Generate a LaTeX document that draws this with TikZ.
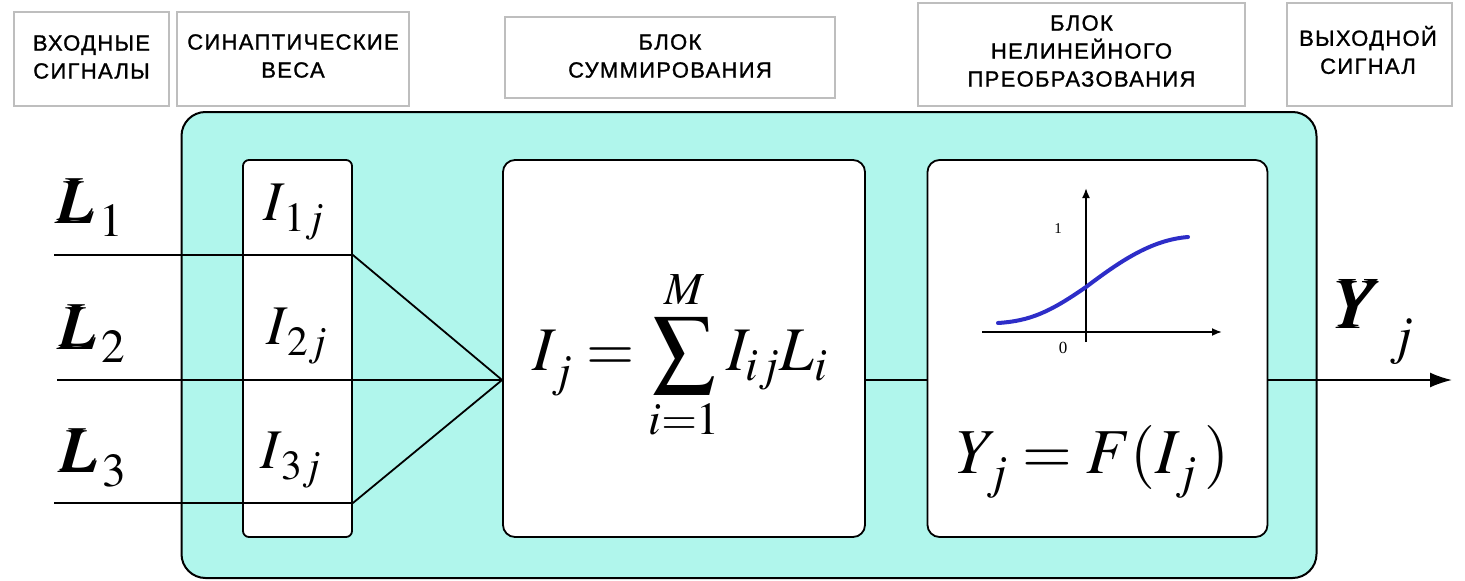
\documentclass[tikz,border=0pt]{standalone}
\usepackage{mathptmx}
\usepackage{bm}
\usepackage[no-math]{fontspec}
\newfontfamily\labfont[LetterSpace=6,FakeBold=1.2]{Liberation Sans}
\newfontfamily\tinyserif{Liberation Serif}
\usetikzlibrary{arrows.meta}
\definecolor{cyanbg}{RGB}{176,246,236}
\definecolor{curveblue}{RGB}{45,45,200}
\definecolor{labgray}{RGB}{190,190,190}
\newcommand{\lowsub}[2]{\raisebox{#1}{$\scriptstyle #2$}}
\begin{document}
\begin{tikzpicture}[x=1pt,y=-1pt,
  labbox/.style={draw=labgray, line width=1.2pt, fill=white, inner sep=0pt},
  labtext/.style={align=center, font=\labfont\fontsize{22}{28}\selectfont, inner sep=0pt},
  blockbox/.style={draw=black, line width=1.8pt, fill=white, inner sep=0pt},
  wire/.style={line width=1.8pt},
  mfont/.style={font=\fontsize{#1}{#1}\selectfont, inner sep=0pt},
  axis/.style={line width=1.8pt, -{Latex[length=10pt,width=8pt]}}
]
\useasboundingbox (0,0) rectangle (1465,581);

% top captions
\node[labbox, minimum width=155pt, minimum height=94pt] (tin) at (91.5,59) {};
\node[labtext] (tintx) at (91.5,57) {ВХОДНЫЕ\\СИГНАЛЫ};
\node[labbox, minimum width=232pt, minimum height=94pt] (tsyn) at (293,59) {};
\node[labtext] (tsyntx) at (293,56) {СИНАПТИЧЕСКИЕ\\ВЕСА};
\node[labbox, minimum width=330pt, minimum height=81pt] (tsum) at (670,57.5) {};
\node[labtext] (tsumtx) at (670,56) {БЛОК\\СУММИРОВАНИЯ};
\node[labbox, minimum width=327pt, minimum height=103pt] (tnl) at (1081.5,54.5) {};
\node[labtext] (tnltx) at (1081.5,51) {БЛОК\\НЕЛИНЕЙНОГО\\ПРЕОБРАЗОВАНИЯ};
\node[labbox, minimum width=165pt, minimum height=103pt] (tout) at (1369.5,54.5) {};
\node[labtext] (touttx) at (1368,50) {ВЫХОДНОЙ\\СИГНАЛ};

% outer neuron body
\node[draw=black, line width=2pt, fill=cyanbg, rounded corners=24pt,
  minimum width=1135pt, minimum height=466pt, inner sep=0pt] (body) at (749,345) {};

% inner blocks
\node[blockbox, rounded corners=6pt, minimum width=109pt, minimum height=377pt] (syn) at (297.5,348.5) {};
\node[blockbox, rounded corners=12pt, minimum width=362pt, minimum height=377pt] (sum) at (684,348.5) {};
\node[blockbox, rounded corners=12pt, minimum width=340pt, minimum height=377pt] (nl) at (1097.5,348.5) {};

% wire coordinates
\coordinate (in1) at (54,255);
\coordinate (in2) at (57,380);
\coordinate (in3) at (54,503);
\coordinate (w1) at (syn.east |- in1);
\coordinate (w3) at (syn.east |- in3);
\coordinate (sumin) at (sum.west |- in2);
\coordinate (sumout) at (sum.east |- in2);
\coordinate (nlin) at (nl.west |- in2);
\coordinate (nlout) at (nl.east |- in2);
\coordinate (outtip) at (1452,380);

\draw[wire] (in1) -- (w1) -- (sumin);
\draw[wire] (in2) -- (sumin);
\draw[wire] (in3) -- (w3) -- (sumin);
\draw[wire] (sumout) -- (nlin);
\draw[wire, -{Latex[length=22pt,width=15pt]}] (nlout) -- (outtip);

% input labels
\node[mfont=64] (L1) at (90,208) {$\bm{L}_{\,\lowsub{-4pt}{1}}$};
\node[mfont=64] (L2) at (92,334) {$\bm{L}_{\,\lowsub{-4pt}{2}}$};
\node[mfont=64] (L3) at (93,458) {$\bm{L}_{\,\lowsub{-4pt}{3}}$};

% weights
\node[mfont=56] (w1j) at (294,212) {$I_{\,\lowsub{-3pt}{1j}}$};
\node[mfont=56] (w2j) at (297,336) {$I_{\,\lowsub{-3pt}{2j}}$};
\node[mfont=56] (w3j) at (291,460) {$I_{\,\lowsub{-3pt}{3j}}$};

% summation formula
\node[mfont=62] (sumf) at (680,355) {$\displaystyle I_{\lowsub{-6pt}{j}} = \sum_{i=1}^{M} I_{ij}L_i$};

% activation graph
\coordinate (xa0) at (982,332);
\coordinate (xa1) at (1222,332);
\coordinate (ya0) at (1086,342);
\coordinate (ya1) at (1086,188);
\draw[axis] (xa0) -- (xa1);
\draw[axis] (ya0) -- (ya1);
\draw[curveblue, line width=4pt, line cap=round]
  (998,323) .. controls (1030,321) and (1050,312) .. (1086,287)
  .. controls (1118,263) and (1150,240) .. (1188,237);
\node[font=\tinyserif\fontsize{15}{15}\selectfont, inner sep=0pt] (one) at (1058,229) {1};
\node[font=\tinyserif\fontsize{17}{17}\selectfont, inner sep=0pt] (zero) at (1063,348) {0};

% nonlinear formula
\node[mfont=64] (nlf) at (1093,462) {$Y_{\lowsub{-6pt}{j}} = F(I_{\lowsub{-6pt}{j}}\,)$};

% output label
\node[mfont=72] (Yout) at (1374,322) {$\bm{Y}_{\,\lowsub{-14pt}{j}}$};
\end{tikzpicture}
\end{document}
